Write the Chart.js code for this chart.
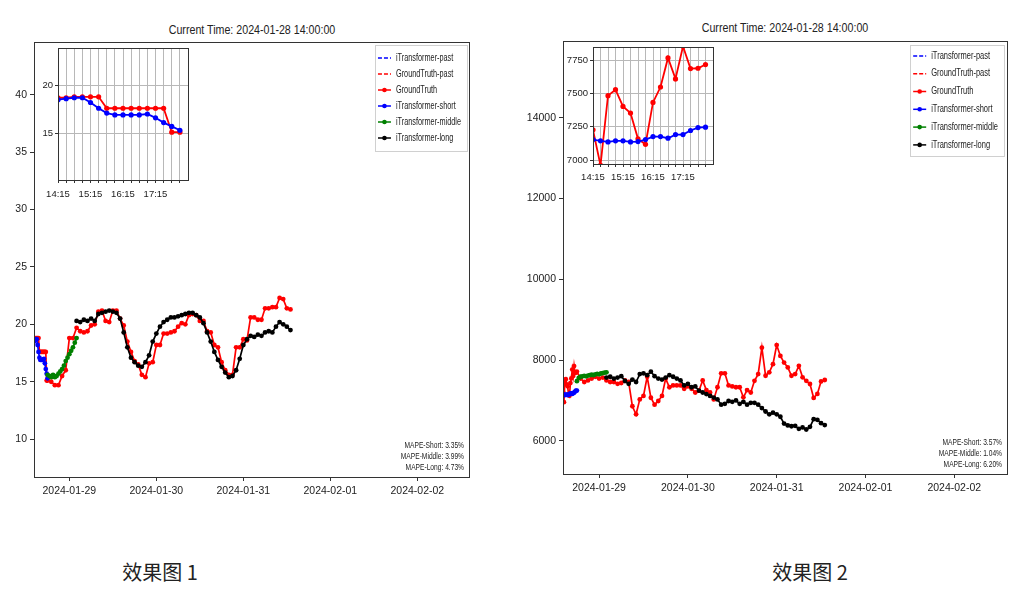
<!DOCTYPE html>
<html lang="zh">
<head>
<meta charset="UTF-8">
<title>iTransformer forecast</title>
<style>
  body { margin: 0; background: #fff; width: 1025px; height: 599px; overflow: hidden; position: relative; }
  canvas { position: absolute; }
  .title { position: absolute; font-family: 'Liberation Sans', sans-serif; font-size: 13px; line-height: 16px; color: #222; white-space: nowrap; transform: translateX(-50%) scaleX(0.82); }
  .cap { position: absolute; font-family: 'Noto Sans CJK SC', sans-serif; font-size: 20px; line-height: 24px; color: #222; white-space: nowrap; transform: translateX(-50%); }
</style>
</head>
<body>
<div class="title" style="left:252px; top:22px">Current Time: 2024-01-28 14:00:00</div>
<div class="title" style="left:785px; top:20px">Current Time: 2024-01-28 14:00:00</div>
<canvas id="left" width="505" height="510" style="left:0; top:0"></canvas>
<canvas id="leftInset" width="175" height="160" style="left:20px; top:40px"></canvas>
<canvas id="right" width="505" height="510" style="left:520px; top:0"></canvas>
<canvas id="rightInset" width="172" height="145" style="left:548px; top:39px"></canvas>
<div class="cap" style="left:160px; top:560px">效果图 1</div>
<div class="cap" style="left:810px; top:560px">效果图 2</div>

<script src="https://cdn.jsdelivr.net/npm/chart.js"></script>
<script>
// times are minutes after 2024-01-28 14:00 (UTC used only for formatting)
const t0 = Date.UTC(2024, 0, 28, 14, 0)
const dayTicks = ['2024-01-29', '2024-01-30', '2024-01-31', '2024-02-01', '2024-02-02']
const seriesNames = ['iTransformer-past', 'GroundTruth-past', 'GroundTruth', 'iTransformer-short', 'iTransformer-middle', 'iTransformer-long']
const mapeNames = ['Short', 'Middle', 'Long']

const quarterStart = 15, gtHourStart = 300, middleStart = 240, longStart = 720

// ---- left chart (效果图 1)
const leftGtQuarter = [18.7, 18.7, 18.8, 18.8, 18.8, 18.8, 17.6, 17.6, 17.6, 17.6, 17.6, 17.6, 17.6, 17.6, 15.1, 15.1]
const leftGtHourly = [15.0, 14.7, 14.7, 15.5, 16.0, 18.8, 18.8, 19.7, 19.4, 19.3, 19.4, 19.9, 20.0, 21.1, 21.2, 20.3, 20.2, 21.2, 21.2, 20.5,
  19.9, 18.5, 17.6, 16.8, 16.5, 15.6, 15.4, 16.6, 16.7, 18.2, 18.2, 19.2, 19.2, 19.3, 19.4, 19.8, 20.1, 20.0, 20.8, 20.9,
  20.8, 20.3, 20.3, 19.4, 19.3, 18.2, 18.0, 16.7, 16.0, 15.6, 15.6, 18.0, 18.0, 18.7, 18.6, 20.6, 20.6, 20.4, 20.4, 21.4,
  21.4, 21.5, 21.5, 22.3, 22.2, 21.4, 21.3]
const leftShort = [18.5, 18.6, 18.7, 18.7, 18.2, 17.6, 17.1, 16.9, 16.9, 16.9, 16.9, 17.0, 16.6, 16.1, 15.7, 15.3]
const leftMiddle = [15.6, 15.5, 15.4, 15.6, 15.4, 15.5, 15.7, 15.9, 16.1, 16.4, 16.8, 17.1, 17.4, 17.7, 18.0, 18.4, 18.8]
const leftLong = [20.3, 20.2, 20.4, 20.3, 20.5, 20.3, 20.9, 21.0, 21.1, 21.2, 21.1, 21.0, 20.5, 19.3, 18.0, 17.1, 16.7, 16.4, 16.3, 16.7,
  17.3, 18.5, 19.2, 19.8, 20.2, 20.4, 20.6, 20.6, 20.7, 20.8, 20.9, 21.0, 21.0, 20.8, 20.6, 20.1, 19.3, 18.5, 17.6, 16.9,
  16.3, 15.8, 15.4, 15.5, 16.0, 17.0, 18.2, 18.7, 19.0, 18.9, 19.1, 19.0, 19.3, 19.4, 19.3, 19.8, 20.2, 20.0, 19.8, 19.5]
const leftMape = [3.35, 3.99, 4.73]
const leftYTicks = [10, 15, 20, 25, 30, 35, 40]
const leftInsetYTicks = [15, 20]

// ---- right chart (效果图 2)
const rightGtQuarter = [7227, 6960, 7484, 7529, 7403, 7353, 7159, 7118, 7433, 7549, 7768, 7610, 7855, 7688, 7690, 7718]
const rightGtHourly = [7545, 7460, 7500, 7545, 7590, 7545, 7570, 7500, 7460, 7460, 7415, 7435, 7500, 7460, 6860, 6660, 7030, 7115, 7590, 7070,
  6900, 6990, 7115, 7545, 7330, 7375, 7375, 7375, 7290, 7350, 7290, 7200, 7245, 7500, 7260, 7200, 7030, 7330, 7675, 7675,
  7375, 7350, 7330, 7330, 7080, 7260, 7200, 7490, 7655, 8310, 7615, 7700, 7900, 8375, 8105, 7940, 7820, 7615, 7655, 7860,
  7575, 7490, 7410, 7065, 7165, 7475, 7510]
const rightShort = [7154, 7144, 7136, 7144, 7144, 7136, 7139, 7154, 7176, 7176, 7164, 7191, 7191, 7222, 7244, 7247]
const rightMiddle = [7480, 7560, 7590, 7600, 7610, 7600, 7620, 7630, 7640, 7630, 7650, 7660, 7650, 7670, 7680, 7690, 7700]
const rightLong = [7570, 7590, 7545, 7570, 7605, 7485, 7415, 7520, 7460, 7655, 7675, 7630, 7715, 7605, 7545, 7520, 7570, 7630, 7590, 7545,
  7500, 7375, 7415, 7330, 7350, 7245, 7200, 7160, 7115, 7075, 7030, 6900, 6920, 6990, 6970, 7005, 6920, 6970, 6900, 6945,
  6945, 6900, 6815, 6730, 6660, 6700, 6660, 6600, 6430, 6385, 6365, 6375, 6300, 6335, 6285, 6350, 6540, 6525, 6440, 6395]
const rightMape = [3.57, 1.04, 6.20]
const rightYTicks = [6000, 8000, 10000, 12000, 14000]
const rightInsetYTicks = [7000, 7250, 7500, 7750]

const FONT = "'Liberation Sans', sans-serif"
Chart.defaults.font.family = FONT
Chart.defaults.color = '#222'

function pts(values, startMin, stepMin) {
  return values.map((v, i) => ({ x: t0 + (startMin + i * stepMin) * 60000, y: v }))
}
const fmtDay = v => new Date(v).toISOString().slice(0, 10)
const fmtTime = v => new Date(v).toISOString().slice(11, 16)

// narrow text: the original figure is squeezed sideways
function narrowText(ctx, text, x, y, sx) {
  ctx.save()
  ctx.translate(x, y)
  ctx.scale(sx, 1)
  ctx.fillText(text, 0, 0)
  ctx.restore()
}

const frame = {
  id: 'frame',
  beforeDraw(chart, args, opts) {
    if (!opts.fill) return
    const a = chart.chartArea
    chart.ctx.fillStyle = '#fff'
    chart.ctx.fillRect(a.left, a.top, a.right - a.left, a.bottom - a.top)
  },
  afterDraw(chart) {
    const a = chart.chartArea, ctx = chart.ctx
    ctx.save()
    ctx.strokeStyle = '#333'
    ctx.lineWidth = 1
    ctx.strokeRect(Math.round(a.left) + 0.5, Math.round(a.top) + 0.5, Math.round(a.right - a.left), Math.round(a.bottom - a.top))
    ctx.restore()
  }
}

const mplLegend = {
  id: 'mplLegend',
  afterDraw(chart, args, opts) {
    const ctx = chart.ctx, a = chart.chartArea
    const sets = chart.data.datasets
    ctx.save()
    ctx.font = opts.size + 'px ' + FONT
    const tw = Math.max(...sets.map(d => ctx.measureText(d.label).width)) * opts.sx
    const w = 3 + 13 + 5 + tw + 6
    const h = opts.rowH * sets.length + 2 * opts.pad
    const x = a.right - opts.dx - w, y = a.top + opts.dy
    ctx.fillStyle = 'rgba(255,255,255,0.85)'
    ctx.fillRect(x, y, w, h)
    ctx.strokeStyle = '#d0d0d0'
    ctx.lineWidth = 1
    ctx.strokeRect(Math.round(x) + 0.5, Math.round(y) + 0.5, Math.round(w), Math.round(h))
    sets.forEach((d, i) => {
      const cy = y + opts.pad + opts.rowH * (i + 0.5)
      ctx.strokeStyle = d.borderColor
      ctx.lineWidth = 1.5
      ctx.setLineDash(d.borderDash || [])
      ctx.beginPath(); ctx.moveTo(x + 3, cy); ctx.lineTo(x + 16, cy); ctx.stroke()
      ctx.setLineDash([])
      if (!d.borderDash) {
        ctx.fillStyle = d.borderColor
        ctx.beginPath(); ctx.arc(x + 9.5, cy, 2.3, 0, 2 * Math.PI); ctx.fill()
      }
      ctx.fillStyle = '#222'
      ctx.textBaseline = 'middle'
      narrowText(ctx, d.label, x + 21, cy, opts.sx)
    })
    ctx.restore()
  }
}

const mapeText = {
  id: 'mapeText',
  afterDraw(chart, args, opts) {
    const ctx = chart.ctx, a = chart.chartArea
    ctx.save()
    ctx.font = opts.size + 'px ' + FONT
    ctx.fillStyle = '#222'
    ctx.textAlign = 'right'
    ctx.textBaseline = 'middle'
    const n = opts.values.length
    opts.values.forEach((v, i) => {
      narrowText(ctx, 'MAPE-' + mapeNames[i] + ': ' + v.toFixed(2) + '%', a.right - opts.dx, a.bottom - opts.dy - (n - 1 - i) * opts.lh, opts.sx)
    })
    ctx.restore()
  }
}

function lineSet(label, color, data, order, big) {
  return {
    label, data, order,
    borderColor: color, backgroundColor: color,
    borderWidth: big ? 1.8 : 1.7,
    pointRadius: big ? 2.6 : 2.4,
    pointBorderWidth: 0,
    pointBackgroundColor: color,
    tension: 0
  }
}
function pastSet(label, color) {
  return { label, data: [], borderColor: color, backgroundColor: color, borderDash: [4, 2], borderWidth: 1.5, pointRadius: 0, order: 6 }
}

function mainChart(id, gtQ, gtH, shortV, midV, longV, yMin, yMax, yTicks, mape, layout, legendOpts, mapeOpts) {
  return new Chart(document.getElementById(id), {
    type: 'line',
    data: {
      datasets: [
        pastSet(seriesNames[0], 'blue'),
        pastSet(seriesNames[1], 'red'),
        lineSet(seriesNames[2], 'red', pts(gtQ, quarterStart, 15).concat(pts(gtH, gtHourStart, 60)), 4),
        lineSet(seriesNames[3], 'blue', pts(shortV, quarterStart, 15), 3),
        lineSet(seriesNames[4], 'green', pts(midV, middleStart, 30), 2),
        lineSet(seriesNames[5], 'black', pts(longV, longStart, 60), 1)
      ]
    },
    options: {
      responsive: false, animation: false,
      layout: { padding: { left: 0, top: layout.top, right: layout.right, bottom: 0 } },
      scales: {
        x: {
          type: 'linear',
          min: t0 + quarterStart * 60000, max: t0 + (quarterStart + 120 * 60) * 60000,
          afterBuildTicks: s => { s.ticks = dayTicks.map(d => ({ value: Date.parse(d + 'T00:00:00Z') })) },
          afterFit: s => { s.height = layout.xh },
          grid: { drawOnChartArea: false, drawTicks: true, tickLength: 4, color: '#333' },
          border: { display: false },
          ticks: { callback: fmtDay, autoSkip: false, maxRotation: 0, padding: 4, font: { size: 10.5 } }
        },
        y: {
          min: yMin, max: yMax,
          afterBuildTicks: s => { s.ticks = yTicks.map(v => ({ value: v })) },
          afterFit: s => { s.width = layout.yw },
          grid: { drawOnChartArea: false, drawTicks: true, tickLength: 4, color: '#333' },
          border: { display: false },
          ticks: { callback: v => String(v), padding: 3, font: { size: 10.5 } }
        }
      },
      plugins: {
        legend: { display: false }, tooltip: { enabled: false },
        frame: { fill: false },
        mplLegend: legendOpts,
        mapeText: Object.assign({ values: mape }, mapeOpts)
      }
    },
    plugins: [frame, mplLegend, mapeText]
  })
}

function insetChart(id, gtQ, shortV, yMin, yMax, yTicks, layout) {
  const qTicks = gtQ.map((v, i) => ({ value: t0 + (quarterStart + i * 15) * 60000 }))
  return new Chart(document.getElementById(id), {
    type: 'line',
    data: {
      datasets: [
        lineSet(seriesNames[2], 'red', pts(gtQ, quarterStart, 15), 2, true),
        lineSet(seriesNames[3], 'blue', pts(shortV, quarterStart, 15), 1, true)
      ]
    },
    options: {
      responsive: false, animation: false,
      layout: { padding: { left: 0, top: layout.top, right: layout.right, bottom: 0 } },
      scales: {
        x: {
          type: 'linear',
          min: t0 + quarterStart * 60000, max: t0 + (quarterStart + 240) * 60000,
          afterBuildTicks: s => { s.ticks = qTicks.slice() },
          afterFit: s => { s.height = layout.xh },
          grid: { color: '#b8b8b8', tickColor: '#333', drawTicks: true, tickLength: 3 },
          border: { display: false },
          ticks: { callback: (v, i) => i % 4 === 0 ? fmtTime(v) : '', autoSkip: false, maxRotation: 0, padding: layout.xpad, font: { size: 9.5 } }
        },
        y: {
          min: yMin, max: yMax,
          afterBuildTicks: s => { s.ticks = yTicks.map(v => ({ value: v })) },
          afterFit: s => { s.width = layout.yw },
          grid: { color: '#b8b8b8', tickColor: '#333', drawTicks: true, tickLength: 3 },
          border: { display: false },
          ticks: { callback: v => String(v), padding: 2, font: { size: 9.5 } }
        }
      },
      plugins: { legend: { display: false }, tooltip: { enabled: false }, frame: { fill: true } }
    },
    plugins: [frame]
  })
}

window.addEventListener('load', function () {
  mainChart('left', leftGtQuarter, leftGtHourly, leftShort, leftMiddle, leftLong, 6.7, 44.6, leftYTicks, leftMape,
    { top: 42, right: 36, xh: 33, yw: 34 },
    { size: 10, sx: 0.73, rowH: 16, pad: 5, dx: 2, dy: 3 },
    { size: 9.5, sx: 0.7, dx: 5, dy: 10, lh: 10.8 })
  mainChart('right', rightGtQuarter, rightGtHourly, rightShort, rightMiddle, rightLong, 5183, 15900, rightYTicks, rightMape,
    { top: 41, right: 18, xh: 36, yw: 43 },
    { size: 10, sx: 0.75, rowH: 17.8, pad: 2, dx: 3, dy: 4 },
    { size: 9.5, sx: 0.7, dx: 5, dy: 10, lh: 11 })
  insetChart('leftInset', leftGtQuarter, leftShort, 10.1, 23.9, leftInsetYTicks, { top: 8, right: 7, xh: 20, yw: 38, xpad: 6 })
  insetChart('rightInset', rightGtQuarter, rightShort, 6970, 7850, rightInsetYTicks, { top: 8, right: 7, xh: 20, yw: 45, xpad: 5 })
})
</script>
</body>
</html>
